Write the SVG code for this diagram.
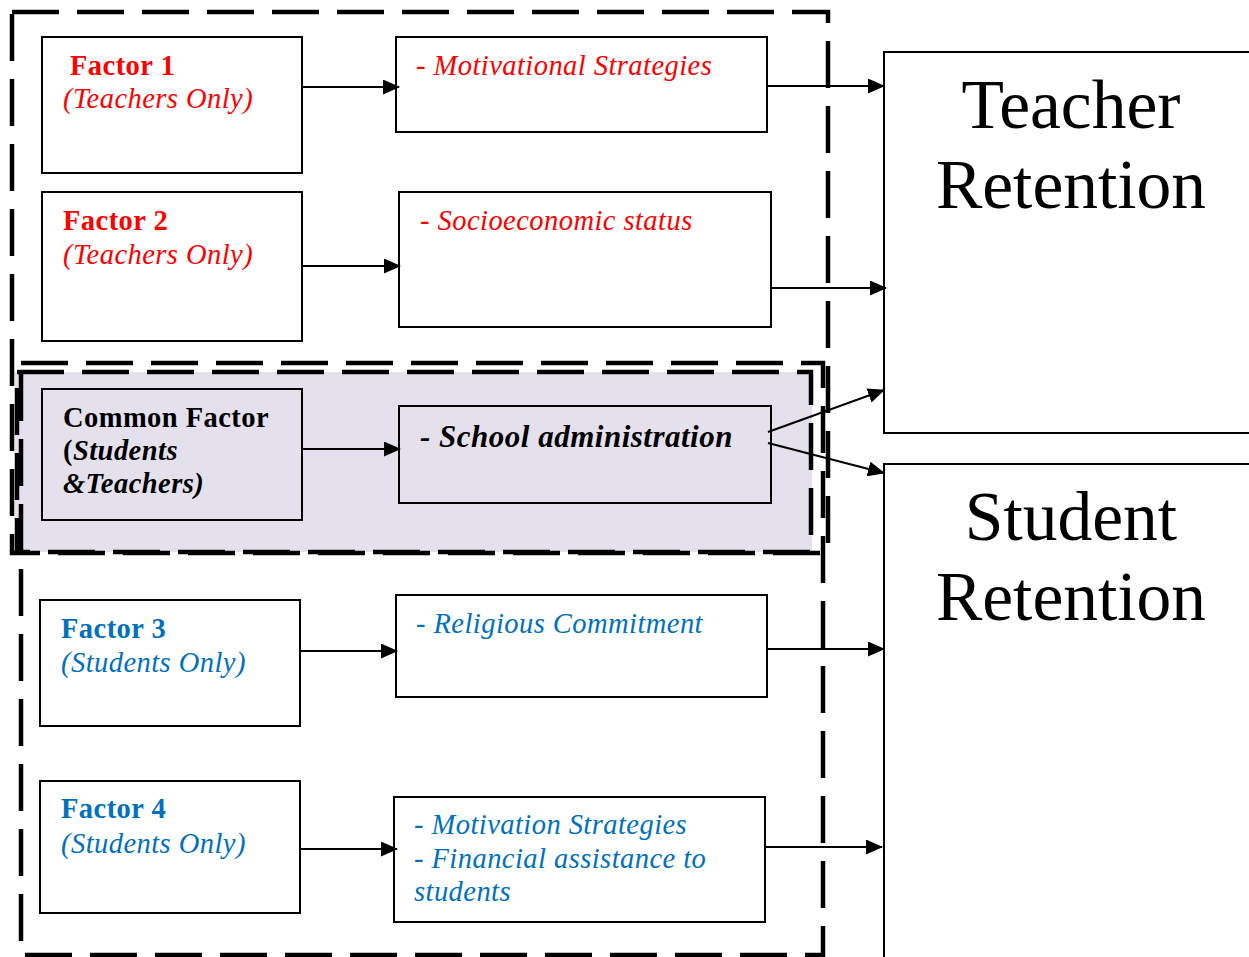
<svg xmlns="http://www.w3.org/2000/svg" width="1249" height="957" viewBox="0 0 1249 957">
<style>
.dash{fill:none;stroke:#000;stroke-width:4.5;stroke-dasharray:47 18}
.box{fill:#fff;stroke:#000;stroke-width:2}
.cbox{fill:#E4E0EC;stroke:#000;stroke-width:2}
.con{stroke:#000;stroke-width:2;fill:none;marker-end:url(#ah)}
text{font-family:"Liberation Serif","Times New Roman",serif;font-size:28.5px;letter-spacing:0.45px}
.b{font-weight:bold}
.i{font-style:italic}
.red{fill:#FF0000}
.blue{fill:#0070C0}
.big{font-size:69.5px;fill:#000;letter-spacing:0}
</style>
<defs>
<marker id="ah" markerWidth="17" markerHeight="15" refX="16" refY="7.5" orient="auto" markerUnits="userSpaceOnUse">
<path d="M0,0 L17,7.5 L0,15 Z" fill="#000"/>
</marker>
</defs>
<rect x="0" y="0" width="1249" height="957" fill="#fff"/>
<g id="groups">
<rect x="15" y="372" width="797" height="180" fill="#E4E0EC"/>
<rect x="12" y="12" width="816" height="541" class="dash"/>
<rect x="21" y="363" width="802" height="592" class="dash"/>
<rect x="17" y="372" width="794" height="180" class="dash"/>
</g>
<g id="teacher-retention">
<rect x="884" y="52" width="380" height="381" class="box"/>
<text x="1071" y="128" text-anchor="middle" class="big">Teacher</text>
<text x="1071" y="208" text-anchor="middle" class="big">Retention</text>
</g>
<g id="student-retention">
<rect x="884" y="464" width="380" height="520" class="box"/>
<text x="1071" y="540" text-anchor="middle" class="big">Student</text>
<text x="1071" y="620" text-anchor="middle" class="big">Retention</text>
</g>
<g id="factor1">
<rect x="42" y="37" width="260" height="136" class="box"/>
<text x="70" y="75" class="b red">Factor 1</text>
<text x="63" y="108" class="i red">(Teachers Only)</text>
</g>
<g id="motivational">
<rect x="396" y="37" width="371" height="95" class="box"/>
<text x="416" y="75" class="i red">- Motivational Strategies</text>
</g>
<g id="factor2">
<rect x="42" y="192" width="260" height="149" class="box"/>
<text x="63" y="230" class="b red">Factor 2</text>
<text x="63" y="264" class="i red">(Teachers Only)</text>
</g>
<g id="socioeconomic">
<rect x="399" y="192" width="372" height="135" class="box"/>
<text x="420" y="230" class="i red">- Socioeconomic status</text>
</g>
<g id="common">
<rect x="42" y="389" width="260" height="131" class="cbox"/>
<text x="63" y="427" class="b">Common Factor</text>
<text x="63" y="460" class="b"><tspan>(</tspan><tspan class="i">Students</tspan></text>
<text x="63" y="493" class="b i">&amp;Teachers)</text>
</g>
<g id="school-admin">
<rect x="399" y="406" width="372" height="97" class="cbox"/>
<text x="420" y="447" class="b i" style="font-size:31px;letter-spacing:0.5px">- School administration</text>
</g>
<g id="factor3">
<rect x="40" y="600" width="260" height="126" class="box"/>
<text x="61" y="638" class="b blue">Factor 3</text>
<text x="61" y="672" class="i blue">(Students Only)</text>
</g>
<g id="religious">
<rect x="396" y="595" width="371" height="102" class="box"/>
<text x="416" y="633" class="i blue">- Religious Commitment</text>
</g>
<g id="factor4">
<rect x="40" y="781" width="260" height="132" class="box"/>
<text x="61" y="818" class="b blue">Factor 4</text>
<text x="61" y="853" class="i blue">(Students Only)</text>
</g>
<g id="motivation-financial">
<rect x="394" y="797" width="371" height="125" class="box"/>
<text x="414" y="834" class="i blue">- Motivation Strategies</text>
<text x="414" y="868" class="i blue">- Financial assistance to</text>
<text x="414" y="901" class="i blue">students</text>
</g>
<g id="connectors">
<line x1="302" y1="87" x2="399" y2="87" class="con"/>
<line x1="767" y1="86" x2="884" y2="86" class="con"/>
<line x1="302" y1="266" x2="400" y2="266" class="con"/>
<line x1="771" y1="288" x2="886" y2="288" class="con"/>
<line x1="302" y1="449" x2="400" y2="449" class="con"/>
<line x1="768" y1="432" x2="884" y2="390" class="con"/>
<line x1="768" y1="443" x2="884" y2="473" class="con"/>
<line x1="300" y1="651" x2="397" y2="651" class="con"/>
<line x1="767" y1="649" x2="884" y2="649" class="con"/>
<line x1="300" y1="849" x2="397" y2="849" class="con"/>
<line x1="765" y1="847" x2="882" y2="847" class="con"/>
</g>
</svg>
